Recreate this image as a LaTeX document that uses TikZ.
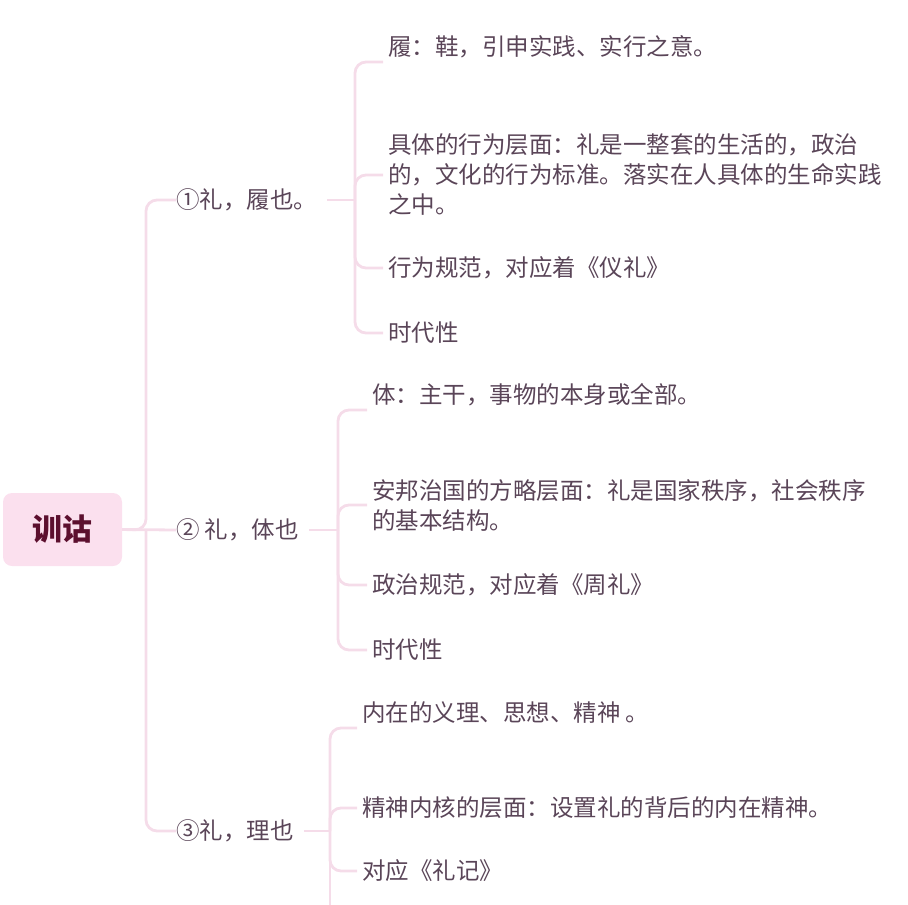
\documentclass[tikz,border=0pt]{standalone}
\usepackage{fontspec}
\setmainfont{Noto Sans CJK SC}
\definecolor{ln}{HTML}{F5DCE9}
\definecolor{tx}{HTML}{5A4558}
\definecolor{rootfill}{HTML}{FBE0EE}
\definecolor{roottx}{HTML}{5C0F2E}
\begin{document}
\begin{tikzpicture}[x=1pt,y=-1pt,
  conn/.style={draw=ln,line width=2.8pt,rounded corners=11pt},
  lvl/.style={anchor=west,inner sep=0pt,text=tx,font=\fontsize{23.5}{30}\selectfont},
  leaf/.style={anchor=west,inner sep=0pt,text=tx,font=\fontsize{23.5}{30}\selectfont,align=left}]
\useasboundingbox (0,0) rectangle (908,905);
\node[fill=rootfill,rounded corners=9pt,minimum width=119pt,minimum height=73pt,inner sep=0pt,text=roottx,font=\fontsize{30}{34}\selectfont\bfseries] (root) at (62.5,529.5) {训诂};
\node[lvl] (b1) at (176,200) {①礼，履也。};
\node[lvl] (b2) at (176,530) {② 礼，体也};
\node[lvl] (b3) at (176,831) {③礼，理也};
\draw[conn] (root.east) -- (146,530) |- (b1.west);
\draw[conn] (root.east) -- (b2.west);
\draw[conn] (146,530) |- (b3.west);
% branch 1
\node[leaf] (l11) at (388,47) {履：鞋，引申实践、实行之意。};
\node[leaf] (l12) at (388,175) {具体的行为层面：礼是一整套的生活的，政治\\的，文化的行为标准。落实在人具体的生命实践\\之中。};
\node[leaf] (l13) at (388,268) {行为规范，对应着《仪礼》};
\node[leaf] (l14) at (388,333) {时代性};
\coordinate (c11) at (383,62);
\draw[conn] ([xshift=10pt]b1.east) -- (355,200);
\draw[conn] (355,200) |- (c11);
\draw[conn] (355,200) |- ([xshift=-5pt]l12.west);
\draw[conn] (355,200) |- ([xshift=-5pt]l13.west);
\draw[conn] (355,200) |- ([xshift=-5pt]l14.west);
% branch 2
\node[leaf] (l21) at (372,395) {体：主干，事物的本身或全部。};
\node[leaf] (l22) at (372,505) {安邦治国的方略层面：礼是国家秩序，社会秩序\\的基本结构。};
\node[leaf] (l23) at (372,585) {政治规范，对应着《周礼》};
\node[leaf] (l24) at (372,650) {时代性};
\coordinate (c21) at (367,410);
\draw[conn] ([xshift=10pt]b2.east) -- (338,530);
\draw[conn] (338,530) |- (c21);
\draw[conn] (338,530) |- ([xshift=-5pt]l22.west);
\draw[conn] (338,530) |- ([xshift=-5pt]l23.west);
\draw[conn] (338,530) |- ([xshift=-5pt]l24.west);
% branch 3
\node[leaf] (l31) at (362,713) {内在的义理、思想、精神 。};
\node[leaf] (l32) at (362,808) {精神内核的层面：设置礼的背后的内在精神。};
\node[leaf] (l33) at (362,871) {对应《礼记》};
\coordinate (c31) at (357,728);
\coordinate (c34) at (330,910);
\draw[conn] ([xshift=10pt]b3.east) -- (330,831);
\draw[conn] (330,831) |- (c31);
\draw[conn] (330,831) |- ([xshift=-5pt]l32.west);
\draw[conn] (330,831) |- ([xshift=-5pt]l33.west);
\draw[conn] (330,831) -- (c34);
\end{tikzpicture}
\end{document}
